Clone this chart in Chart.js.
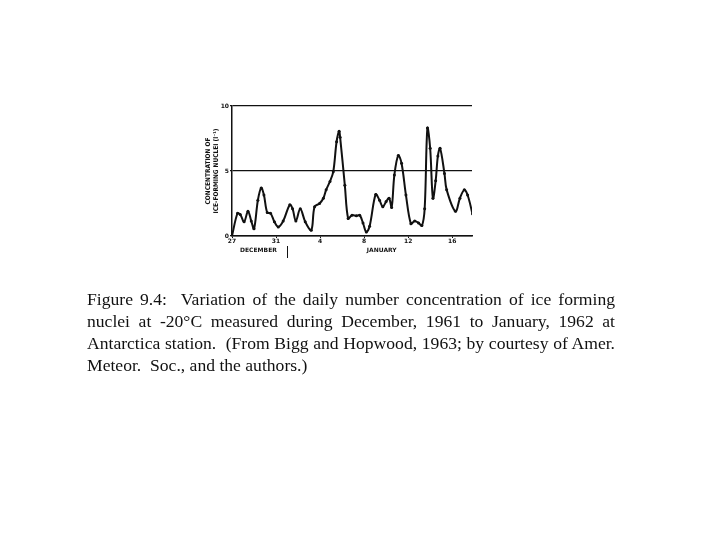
<!DOCTYPE html>
<html>
<head>
<meta charset="utf-8">
<script src="https://cdn.jsdelivr.net/npm/chart.js@4.4.1/dist/chart.umd.min.js"></script>
<style>
  html, body { margin: 0; padding: 0; background: #fff; }
  #wrap { position: relative; width: 720px; height: 540px; }
  #chart { position: absolute; left: 0; top: 0; }
  .cap { position: absolute; left: 87px; width: 528px; font-family: "Liberation Serif", "DejaVu Serif", serif;
         font-size: 17.6px; color: #111; text-align: justify; text-align-last: justify; white-space: nowrap; }
  .cap.last { text-align-last: left; }
</style>
</head>
<body>
<div id="wrap">
  <canvas id="chart" width="720" height="540"></canvas>
  <div class="cap" style="top:289px">Figure 9.4:&nbsp; Variation of the daily number concentration of ice forming</div>
  <div class="cap" style="top:311px">nuclei at -20°C measured during December, 1961 to January, 1962 at</div>
  <div class="cap" style="top:333px">Antarctica station.&nbsp; (From Bigg and Hopwood, 1963; by courtesy of Amer.</div>
  <div class="cap last" style="top:355px">Meteor.&nbsp; Soc., and the authors.)</div>
</div>
<script>
/* Days counted from 27 December 1961 (day 0) */
const days = [0, 0.5, 0.75, 1.1, 1.45, 1.75, 2.0, 2.35, 2.65, 2.9, 3.2, 3.5, 3.85, 4.2, 4.65,
  5.25, 5.5, 5.8, 6.2, 6.65, 7.2, 7.5, 7.95, 8.3, 8.55, 8.9, 9.2, 9.5, 9.73, 9.82,
  10.25, 10.55, 10.9, 11.3, 11.6, 11.9, 12.2, 12.5, 13.05, 13.4, 13.7, 14.0, 14.27, 14.5,
  14.75, 15.1, 15.4, 15.8, 16.25, 16.6, 16.95, 17.25, 17.5, 17.75, 18.0, 18.25, 18.5,
  18.7, 18.9, 19.3, 19.5, 20.3, 20.7, 21.1, 21.4, 21.85];
const conc = [0, 1.75, 1.65, 1.1, 1.9, 1.15, 0.55, 2.75, 3.7, 3.15, 1.8, 1.75, 1.1, 0.7, 1.15,
  2.4, 2.1, 1.15, 2.1, 1.1, 0.45, 2.25, 2.5, 2.9, 3.55, 4.2, 4.95, 7.25, 8.05, 7.6,
  3.9, 1.35, 1.6, 1.55, 1.6, 1.0, 0.3, 0.75, 3.2, 2.75, 2.25, 2.65, 2.9, 2.2,
  4.7, 6.2, 5.6, 3.15, 0.95, 1.15, 1.0, 0.8, 2.1, 8.3, 6.75, 2.9, 4.25,
  6.15, 6.75, 4.8, 3.55, 1.9, 2.9, 3.55, 3.15, 1.7];

const tickDays = [0, 4, 8, 12, 16, 20];
const tickLabels = ['27', '31', '4', '8', '12', '16'];
const monthPos = [2.4, 5, 13.6];
const monthLabels = ['DECEMBER', '', 'JANUARY'];
const yTicks = [0, 5, 10];

const ink = '#111';
const tinyFont = { family: 'DejaVu Sans', size: 6, weight: 'bold' };

new Chart(document.getElementById('chart'), {
  type: 'line',
  data: {
    datasets: [{
      data: days.map((d, i) => ({ x: d, y: conc[i] })),
      borderColor: ink,
      borderWidth: 2,
      tension: 0.35,
      pointRadius: 1.5,
      pointBackgroundColor: ink,
      pointBorderWidth: 0
    }]
  },
  options: {
    responsive: false,
    animation: false,
    layout: { padding: { left: 205, right: 248, top: 106, bottom: 280 } },
    plugins: { legend: { display: false }, tooltip: { enabled: false } },
    scales: {
      x: {
        type: 'linear', min: 0, max: 21.8,
        afterBuildTicks: s => { s.ticks = tickDays.map(v => ({ value: v })); },
        afterFit: s => { s.height = 10; },
        ticks: { callback: (v) => tickLabels[tickDays.indexOf(v)], font: tinyFont, color: ink, padding: 0, maxRotation: 0 },
        grid: { drawOnChartArea: false, tickLength: 2, color: ink },
        border: { color: ink, width: 1.5 }
      },
      month: {
        type: 'linear', position: 'bottom', min: 0, max: 21.8,
        afterBuildTicks: s => { s.ticks = monthPos.map(v => ({ value: v })); },
        afterFit: s => { s.height = 14; },
        ticks: { callback: (v) => monthLabels[monthPos.indexOf(v)], font: tinyFont, color: ink, padding: -11, maxRotation: 0, autoSkip: false },
        grid: { drawOnChartArea: false, tickLength: 12, lineWidth: 1,
                color: c => (c.tick && c.tick.value === 5) ? ink : 'rgba(0,0,0,0)' },
        border: { display: false }
      },
      y: {
        min: 0, max: 10,
        afterBuildTicks: s => { s.ticks = yTicks.map(v => ({ value: v })); },
        afterFit: s => { s.width = 27; },
        ticks: { font: tinyFont, color: ink, padding: 1 },
        grid: { color: ink, lineWidth: 1.2, tickLength: 2 },
        border: { color: ink, width: 1.5 },
        title: { display: true, text: ['CONCENTRATION OF', 'ICE-FORMING NUCLEI (l\u207B\u00B9)'],
                 font: { family: 'DejaVu Sans Condensed', size: 6.5, weight: 'bold', lineHeight: 1.15 }, color: ink, padding: 0 }
      }
    }
  }
});
</script>
</body>
</html>
